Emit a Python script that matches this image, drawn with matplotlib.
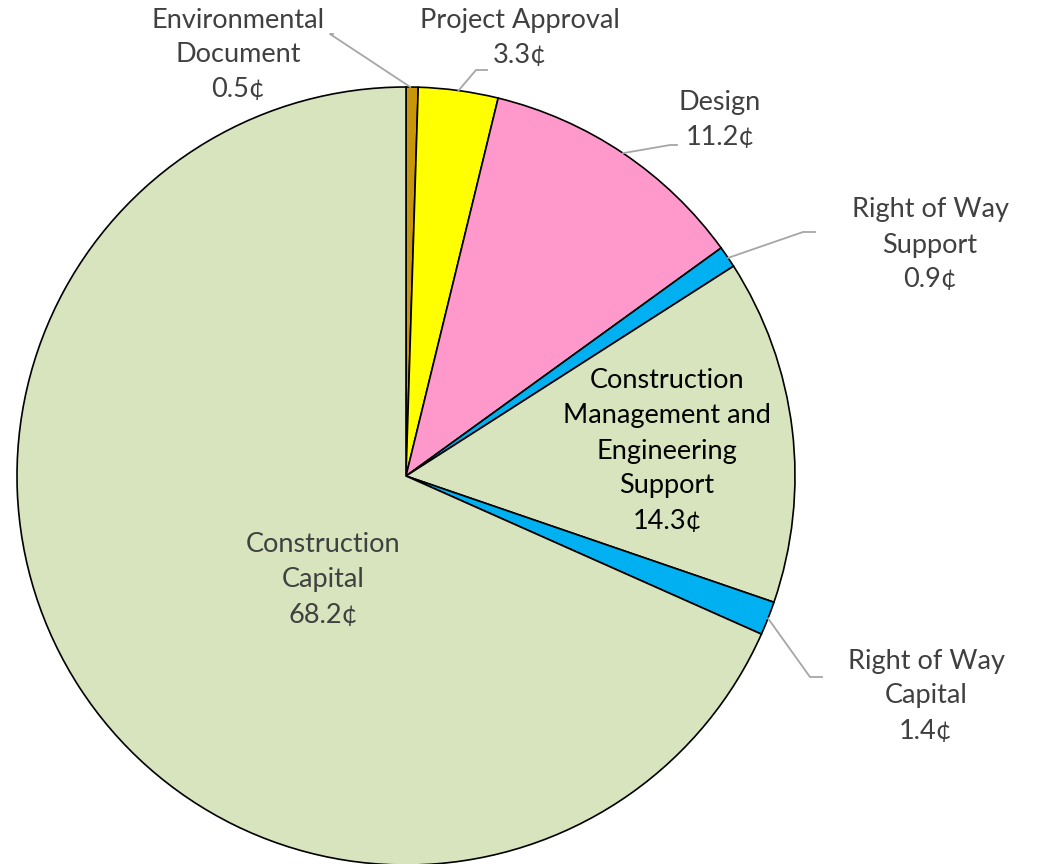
import numpy as np
import matplotlib.pyplot as plt

plt.rcParams['font.family'] = ['Lato', 'DejaVu Sans']

# slices, clockwise from 12 o'clock
labels = ['Environmental\nDocument', 'Project Approval', 'Design', 'Right of Way\nSupport',
          'Construction\nManagement and\nEngineering\nSupport', 'Right of Way\nCapital',
          'Construction\nCapital']
values = [0.5, 3.3, 11.2, 0.9, 14.3, 1.4, 68.2]
colors = ['#C8960A', '#FFFF00', '#FF99CC', '#00B0F0', '#D7E4BD', '#00B0F0', '#D7E4BD']

W, H = 1038, 864
cx, cy, r = 406, H - 476, 389

fig = plt.figure(figsize=(W / 100, H / 100), dpi=100)
ax = fig.add_axes([0, 0, 1, 1])

wedges, _ = ax.pie(values, colors=colors, startangle=90, counterclock=False,
                   center=(cx, cy), radius=r, frame=True,
                   wedgeprops=dict(edgecolor='black', linewidth=1.2))
ax.set_xlim(0, W)
ax.set_ylim(0, H)
ax.set_aspect('equal')
ax.axis('off')

txt = '#404040'
lc = '#A6A6A6'
fs = 19.5

# label centre, leader elbow + end (None = label inside the slice), where the leader touches the slice
label_pos = [(238, 55), (520, 38), (720, 120), (930, 245), (667, 451), (926, 696), (323, 580)]
elbows = [((330, 34), (333, 34)), ((476, 70), (487, 70)), ((670, 145), (677, 145)),
          ((803, 232), (815, 232)), None, ((810, 677), (822, 677)), None]
tips = [0.65, 0.5, 0.5, 0.45, None, 0.5, None]

for i, w in enumerate(wedges):
    s = f'{labels[i]}\n{values[i]:.1f}¢'
    x, y = label_pos[i]
    color = 'black' if i == 4 else txt
    ax.text(x, H - y, s, ha='center', va='center', fontsize=fs, color=color,
            linespacing=1.5)
    if elbows[i] is not None:
        a = np.deg2rad(w.theta1 + (w.theta2 - w.theta1) * tips[i])
        px, py = cx + r * np.cos(a), cy + r * np.sin(a)
        (ex, ey), (fx, fy) = elbows[i]
        ax.plot([px, ex, fx], [py, H - ey, H - fy], color=lc, linewidth=1.3)

fig.savefig('out.png', dpi=100)
